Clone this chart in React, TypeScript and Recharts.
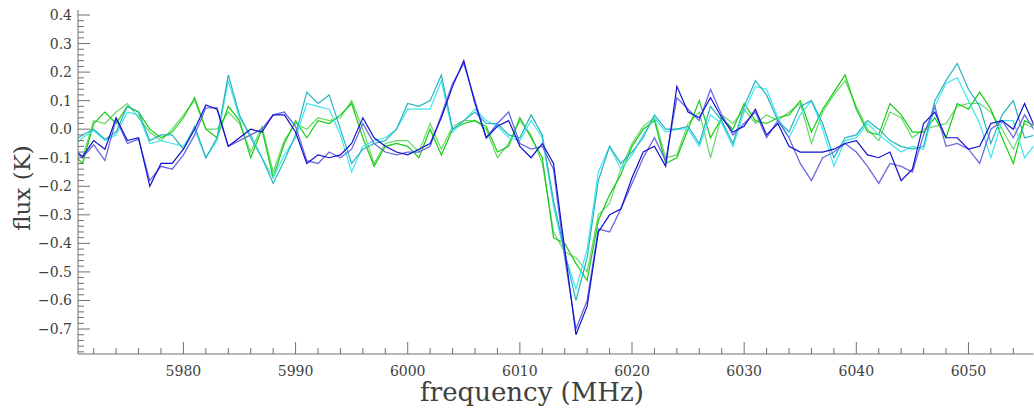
import React from 'react';
import { LineChart, Line, XAxis, YAxis } from 'recharts';

const freq = [
  5970, 5971, 5972, 5973, 5974, 5975, 5976, 5977, 5978, 5979,
  5980, 5981, 5982, 5983, 5984, 5985, 5986, 5987, 5988, 5989,
  5990, 5991, 5992, 5993, 5994, 5995, 5996, 5997, 5998, 5999,
  6000, 6001, 6002, 6003, 6004, 6005, 6006, 6007, 6008, 6009,
  6010, 6011, 6012, 6013, 6014, 6015, 6016, 6017, 6018, 6019,
  6020, 6021, 6022, 6023, 6024, 6025, 6026, 6027, 6028, 6029,
  6030, 6031, 6032, 6033, 6034, 6035, 6036, 6037, 6038, 6039,
  6040, 6041, 6042, 6043, 6044, 6045, 6046, 6047, 6048, 6049,
  6050, 6051, 6052, 6053, 6054, 6055, 6056,
];

const blueDark = [
  -0.06, -0.096, -0.04, -0.07, 0.04, -0.04, -0.03, -0.2, -0.12, -0.12,
  -0.07, 0.0, 0.085, 0.07, -0.06, -0.03, 0.0, -0.01, 0.05, 0.05,
  -0.01, -0.12, -0.09, -0.1, -0.09, -0.05, 0.04, -0.03, -0.06, -0.08,
  -0.09, -0.07, -0.05, 0.04, 0.15, 0.24, 0.09, -0.03, 0.01, 0.03,
  -0.06, -0.1, -0.05, -0.12, -0.42, -0.72, -0.62, -0.36, -0.3, -0.28,
  -0.17, -0.08, -0.06, -0.13, 0.15, 0.06, 0.04, 0.11, 0.04, -0.01,
  0.01, 0.07, -0.02, 0.02, -0.06, -0.08, -0.08, -0.08, -0.07, -0.05,
  -0.04, -0.09, -0.1, -0.08, -0.18, -0.14, 0.02, 0.06, -0.03, -0.03,
  -0.07, -0.06, 0.02, 0.03, 0.0, 0.09, 0.0,
];

const blueLight = [
  -0.07, -0.1, -0.055, -0.11, 0.035, -0.05, -0.035, -0.18, -0.13, -0.14,
  -0.09, -0.02, 0.075, 0.075, -0.06, -0.04, -0.02, 0.0, 0.05, 0.06,
  0.01, -0.11, -0.12, -0.08, -0.1, -0.07, 0.02, -0.05, -0.08, -0.09,
  -0.08, -0.08, -0.06, 0.05, 0.16, 0.23, 0.1, -0.03, 0.02, 0.06,
  -0.05, -0.07, -0.06, -0.14, -0.45, -0.7, -0.6, -0.35, -0.36, -0.28,
  -0.19, -0.1, -0.03, -0.11, 0.11, 0.07, 0.03, 0.14, 0.05, -0.02,
  0.02, 0.06, -0.03, 0.03, -0.03, -0.12, -0.18, -0.1, -0.08, -0.05,
  -0.08, -0.13, -0.19, -0.12, -0.13, -0.15, -0.02, 0.08, -0.06, -0.05,
  -0.07, -0.12, 0.0, 0.03, -0.03, 0.05, -0.01,
];

const teal = [
  -0.05, -0.02, 0.0, -0.035, -0.01, 0.08, 0.06, -0.04, -0.02, -0.02,
  -0.07, 0.01, -0.1, -0.03, 0.19, 0.05, -0.03, -0.1, -0.19, -0.11,
  -0.02, 0.13, 0.09, 0.12, 0.0, -0.12, -0.07, -0.05, -0.04, 0.0,
  0.09, 0.08, 0.1, 0.19, 0.0, 0.03, 0.06, 0.02, 0.02, -0.02,
  -0.03, 0.05, -0.02, -0.25, -0.43, -0.6, -0.45, -0.18, -0.06, -0.12,
  -0.08, -0.03, 0.05, 0.0, 0.0, 0.01, -0.05, 0.08, 0.03, -0.05,
  0.08, 0.17, 0.12, 0.03, -0.01, 0.08, 0.1, 0.02, -0.1, -0.03,
  -0.02, 0.03, 0.0, -0.04, -0.06, -0.07, -0.06, 0.1, 0.17, 0.23,
  0.14, 0.08, -0.05, 0.05, 0.1, -0.03, -0.02,
];

const cyan = [
  -0.07, -0.03, -0.005, -0.04, -0.02, 0.06, 0.05, -0.05, -0.04, -0.05,
  -0.06, 0.0, -0.1, -0.04, 0.17, 0.04, -0.02, -0.1, -0.17, -0.09,
  -0.03, 0.09, 0.08, 0.07, -0.02, -0.15, -0.06, -0.04, -0.03, 0.0,
  0.07, 0.07, 0.07, 0.17, -0.01, 0.03, 0.07, 0.03, 0.01, -0.03,
  -0.04, 0.03, -0.03, -0.27, -0.44, -0.56, -0.42, -0.15, -0.06, -0.14,
  -0.09, -0.02, 0.04, -0.01, 0.0, 0.0, -0.06, 0.05, 0.02, -0.06,
  0.06, 0.15, 0.14, 0.04, -0.03, 0.05, 0.1, 0.0, -0.13, -0.04,
  -0.03, 0.02, -0.02, -0.05, -0.08, -0.06, -0.07, 0.08, 0.16, 0.18,
  0.1, 0.02, -0.1, 0.03, 0.03, -0.1, -0.05,
];

const green = [
  -0.08, -0.12, 0.02, 0.06, 0.02, 0.08, 0.06, 0.0, -0.03, -0.01,
  0.04, 0.11, 0.0, -0.03, 0.08, 0.03, -0.1, 0.0, -0.17, -0.05,
  0.03, -0.03, 0.03, 0.02, 0.05, 0.09, -0.03, -0.13, -0.06, -0.05,
  -0.06, -0.1, 0.0, -0.09, 0.0, 0.02, 0.03, 0.01, -0.08, -0.06,
  0.04, -0.03, -0.1, -0.38, -0.4, -0.47, -0.53, -0.32, -0.23, -0.16,
  -0.06, 0.0, 0.03, -0.12, -0.1, 0.0, 0.1, -0.03, 0.04, 0.0,
  0.09, 0.03, 0.02, 0.04, 0.05, 0.1, -0.01, 0.07, 0.13, 0.19,
  0.07, -0.01, -0.02, 0.09, 0.05, -0.01, -0.01, 0.04, -0.03, 0.09,
  0.07, 0.13, 0.07, -0.03, -0.12, 0.03, 0.01,
];

const greenLight = [
  -0.07, -0.1, 0.03, 0.02, 0.06, 0.09, 0.04, -0.01, -0.04, 0.0,
  0.05, 0.1, 0.0, 0.0, 0.06, 0.02, -0.08, 0.01, -0.15, -0.04,
  0.02, 0.0, 0.04, 0.03, 0.04, 0.1, 0.0, -0.12, -0.05, -0.04,
  -0.04, -0.08, 0.02, -0.07, 0.01, 0.03, 0.03, 0.0, -0.1, -0.05,
  0.03, -0.02, -0.12, -0.36, -0.43, -0.45, -0.5, -0.3, -0.26, -0.14,
  -0.05, 0.01, 0.04, -0.1, -0.09, 0.02, 0.06, -0.1, 0.05, 0.02,
  0.07, 0.02, 0.05, 0.03, 0.06, 0.09, -0.05, 0.06, 0.12, 0.17,
  0.08, 0.0, -0.04, 0.06, 0.04, -0.03, 0.0, 0.01, 0.02, 0.08,
  0.09, 0.09, 0.06, 0.0, -0.07, 0.02, 0.0,
];

const xTicks = [
  5972, 5974, 5976, 5978, 5980, 5982, 5984, 5986, 5988, 5990,
  5992, 5994, 5996, 5998, 6000, 6002, 6004, 6006, 6008, 6010,
  6012, 6014, 6016, 6018, 6020, 6022, 6024, 6026, 6028, 6030,
  6032, 6034, 6036, 6038, 6040, 6042, 6044, 6046, 6048, 6050,
  6052, 6054,
];

const yTicks = [
  -0.78, -0.76, -0.74, -0.72, -0.7, -0.68, -0.66, -0.64, -0.62, -0.6,
  -0.58, -0.56, -0.54, -0.52, -0.5, -0.48, -0.46, -0.44, -0.42, -0.4,
  -0.38, -0.36, -0.34, -0.32, -0.3, -0.28, -0.26, -0.24, -0.22, -0.2,
  -0.18, -0.16, -0.14, -0.12, -0.1, -0.08, -0.06, -0.04, -0.02, 0,
  0.02, 0.04, 0.06, 0.08, 0.1, 0.12, 0.14, 0.16, 0.18, 0.2,
  0.22, 0.24, 0.26, 0.28, 0.3, 0.32, 0.34, 0.36, 0.38, 0.4,
];

const data = freq.map((f, i) => ({
  f,
  b1: blueDark[i],
  b2: blueLight[i],
  c1: teal[i],
  c2: cyan[i],
  g1: green[i],
  g2: greenLight[i],
}));

const AXIS = '#707070';
const TEXT = '#404040';
const FONT = '"DejaVu Serif", serif';

const isMajorX = (v: number) => Math.round(v) % 10 === 0;
const isMajorY = (v: number) => Math.abs(v * 10 - Math.round(v * 10)) < 1e-6;
const fmtY = (v: number) => {
  const s = Math.abs(v).toFixed(1);
  return v < -1e-9 ? '\u2212' + s : s;
};

const BottomTick = (props: any) => {
  const { x, y, payload } = props;
  const major = isMajorX(payload.value);
  return (
    <g>
      <line x1={x} x2={x} y1={y} y2={y - (major ? 12 : 6)} stroke={AXIS} strokeWidth={1} />
      {major && (
        <text x={x} y={y + 22} textAnchor="middle" fontFamily={FONT} fontSize={14} fill={TEXT}>
          {payload.value}
        </text>
      )}
    </g>
  );
};

const TopTick = (props: any) => {
  const { x, y, payload } = props;
  const major = isMajorX(payload.value);
  return <line x1={x} x2={x} y1={y} y2={y + (major ? 12 : 6)} stroke={AXIS} strokeWidth={1} />;
};

const LeftTick = (props: any) => {
  const { x, y, payload } = props;
  const major = isMajorY(payload.value);
  return (
    <g>
      <line x1={x} x2={x + (major ? 12 : 6)} y1={y} y2={y} stroke={AXIS} strokeWidth={1} />
      {major && (
        <text x={x - 6} y={y + 5} textAnchor="end" fontFamily={FONT} fontSize={14} fill={TEXT}>
          {fmtY(payload.value)}
        </text>
      )}
    </g>
  );
};

const RightTick = (props: any) => {
  const { x, y, payload } = props;
  const major = isMajorY(payload.value);
  return <line x1={x} x2={x - (major ? 12 : 6)} y1={y} y2={y} stroke={AXIS} strokeWidth={1} />;
};

const X_DOMAIN: [number, number] = [5970.6, 6055.8];
const Y_DOMAIN: [number, number] = [-0.7875, 0.4175];

export default function App() {
  return (
    <div
      style={{
        position: 'absolute',
        left: 0,
        top: 0,
        width: 1034,
        height: 409,
        overflow: 'hidden',
        background: '#fff',
      }}
    >
      <LineChart
        width={1034}
        height={409}
        data={data}
        margin={{ top: 10, right: 0.5, bottom: 0, left: 0 }}
        style={{ display: 'block' }}
      >
        <XAxis
          xAxisId="bottom"
          dataKey="f"
          type="number"
          domain={X_DOMAIN}
          allowDataOverflow
          ticks={xTicks}
          interval={0}
          tickSize={0}
          tickMargin={0}
          height={55}
          stroke={AXIS}
          tick={<BottomTick />}
        />
        <XAxis
          xAxisId="top"
          orientation="top"
          dataKey="f"
          type="number"
          domain={X_DOMAIN}
          allowDataOverflow
          ticks={xTicks}
          interval={0}
          tickSize={0}
          tickMargin={0}
          height={0}
          stroke={AXIS}
          tick={<TopTick />}
        />
        <YAxis
          yAxisId="left"
          type="number"
          domain={Y_DOMAIN}
          allowDataOverflow
          ticks={yTicks}
          interval={0}
          tickSize={0}
          tickMargin={0}
          width={78}
          stroke={AXIS}
          tick={<LeftTick />}
        />
        <YAxis
          yAxisId="right"
          orientation="right"
          type="number"
          domain={Y_DOMAIN}
          allowDataOverflow
          ticks={yTicks}
          interval={0}
          tickSize={0}
          tickMargin={0}
          width={0}
          stroke={AXIS}
          tick={<RightTick />}
        />
        <Line xAxisId="bottom" yAxisId="left" dataKey="g2" type="linear" stroke="#66d866" strokeWidth={1.2} dot={false} isAnimationActive={false} />
        <Line xAxisId="bottom" yAxisId="left" dataKey="g1" type="linear" stroke="#14cc14" strokeWidth={1.2} dot={false} isAnimationActive={false} />
        <Line xAxisId="bottom" yAxisId="left" dataKey="c2" type="linear" stroke="#3ee6f0" strokeWidth={1.2} dot={false} isAnimationActive={false} />
        <Line xAxisId="bottom" yAxisId="left" dataKey="c1" type="linear" stroke="#26b4bc" strokeWidth={1.2} dot={false} isAnimationActive={false} />
        <Line xAxisId="bottom" yAxisId="left" dataKey="b2" type="linear" stroke="#6a6ae0" strokeWidth={1.3} dot={false} isAnimationActive={false} />
        <Line xAxisId="bottom" yAxisId="left" dataKey="b1" type="linear" stroke="#1010d0" strokeWidth={1.2} dot={false} isAnimationActive={false} />
      </LineChart>
      <svg
        width={1034}
        height={409}
        style={{ position: 'absolute', left: 0, top: 0, pointerEvents: 'none' }}
      >
        <text x={532} y={401} textAnchor="middle" fontFamily={FONT} fontSize={26} fill={TEXT}>
          frequency (MHz)
        </text>
        <text
          transform="translate(30,188) rotate(-90)"
          textAnchor="middle"
          fontFamily={FONT}
          fontSize={23}
          fill={TEXT}
        >
          flux (K)
        </text>
      </svg>
    </div>
  );
}
